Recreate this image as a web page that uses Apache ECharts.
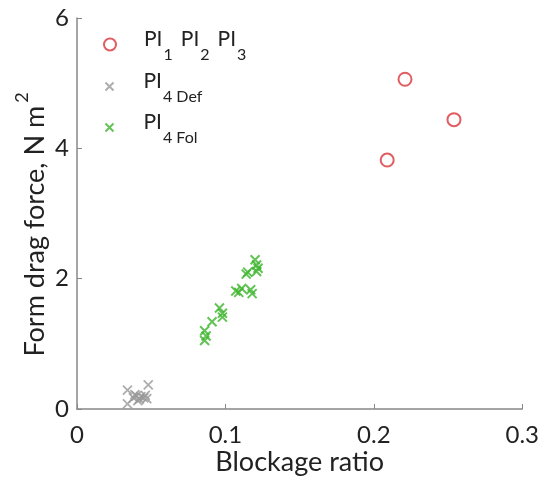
<!DOCTYPE html>
<html>
<head>
<meta charset="utf-8">
<script src="https://cdn.jsdelivr.net/npm/echarts@6/dist/echarts.min.js"></script>
<style>
  html, body { margin: 0; padding: 0; background: #fff; }
  #chart { width: 542px; height: 488px; }
</style>
</head>
<body>
<div id="chart"></div>
<script>
// blockage ratio, form drag force (N m^2)
const plants123 = [[0.209, 3.82], [0.221, 5.06], [0.254, 4.44]];
const pl4Def = [
    [0.034, 0.29], [0.034, 0.08], [0.048, 0.37], [0.038, 0.17], [0.040, 0.20],
    [0.042, 0.15], [0.043, 0.19], [0.045, 0.17], [0.046, 0.21], [0.047, 0.16],
    [0.041, 0.13], [0.039, 0.22]
];
const pl4Fol = [
    [0.086, 1.05], [0.086, 1.20], [0.087, 1.12], [0.091, 1.34], [0.096, 1.55],
    [0.098, 1.41], [0.098, 1.47], [0.107, 1.81], [0.109, 1.79], [0.111, 1.85],
    [0.117, 1.83], [0.118, 1.77], [0.114, 2.07], [0.115, 2.10], [0.120, 2.29],
    [0.121, 2.21], [0.121, 2.11], [0.122, 2.16]
];
const xTicks = { min: 0, max: 0.3, interval: 0.1 };
const yTicks = { min: 0, max: 6, interval: 2 };

const font = 'Lato, "Open Sans", sans-serif';
const ink = '#222';
const crossPath = 'path://M0,0L10,10M10,0L0,10';

// PI with lowered subscript: both tokens centred, shifted by padding
const subRich = {
    b: { fontSize: 21, lineHeight: 40, padding: [0, 0, 10, 0], color: ink, fontFamily: font },
    g: { fontSize: 21, lineHeight: 40, padding: [0, 0, 10, 8], color: ink, fontFamily: font },
    s: { fontSize: 16, lineHeight: 40, padding: [21, 0, 0, 1], color: ink, fontFamily: font }
};

const names = ['PI1 PI2 PI3', 'PI4 Def', 'PI4 Fol'];
const labels = {
    'PI1 PI2 PI3': '{b|PI}{s|1}{g|PI}{s|2}{g|PI}{s|3}',
    'PI4 Def': '{b|PI}{s|4 Def}',
    'PI4 Fol': '{b|PI}{s|4 Fol}'
};

function legendFor(name, iconY, h) {
    return {
        data: [name],
        left: 103,
        top: iconY - 19,
        padding: 0,
        itemWidth: 58,
        itemHeight: h,
        symbolKeepAspect: true,
        formatter: n => labels[n],
        textStyle: { rich: subRich }
    };
}

const chart = echarts.init(document.getElementById('chart'));
chart.setOption({
    animation: false,
    textStyle: { fontFamily: font },
    grid: { left: 77, right: 17, top: 18, bottom: 79 },
    legend: [
        legendFor(names[0], 45, 12),
        legendFor(names[1], 87, 8),
        legendFor(names[2], 128, 8)
    ],
    xAxis: {
        type: 'value',
        min: xTicks.min, max: xTicks.max, interval: xTicks.interval,
        name: 'Blockage ratio',
        nameLocation: 'middle',
        nameGap: 40,
        nameMoveOverlap: false,
        nameTextStyle: { fontSize: 27, color: ink, fontFamily: font },
        axisLine: { lineStyle: { color: '#888', width: 1.5 } },
        axisTick: { inside: true, length: 5, lineStyle: { color: '#888' } },
        axisLabel: { fontSize: 24, color: ink, margin: 14, fontFamily: font },
        splitLine: { show: false }
    },
    yAxis: {
        type: 'value',
        min: yTicks.min, max: yTicks.max, interval: yTicks.interval,
        name: '{n|Form drag force, N m}{sup|2}',
        nameLocation: 'middle',
        nameGap: 25,
        nameMoveOverlap: false,
        nameTextStyle: {
            rich: {
                n: { fontSize: 27, lineHeight: 40, padding: [6, 0, 0, 0], color: ink, fontFamily: font },
                sup: { fontSize: 18, lineHeight: 40, padding: [0, 22, 20, 3], color: ink, fontFamily: font }
            }
        },
        axisLine: { show: true, lineStyle: { color: '#888', width: 1.5 } },
        axisTick: { show: true, inside: true, length: 5, lineStyle: { color: '#888' } },
        axisLabel: { fontSize: 24, color: ink, margin: 8, fontFamily: font },
        splitLine: { show: false }
    },
    series: [
        {
            name: names[0],
            type: 'scatter',
            data: plants123,
            symbol: 'circle',
            symbolSize: 13,
            itemStyle: { color: 'transparent', borderColor: '#d8353a', borderWidth: 2 }
        },
        {
            name: names[1],
            type: 'scatter',
            data: pl4Def,
            symbol: crossPath,
            symbolSize: 9,
            itemStyle: { color: 'none', borderColor: '#999', borderWidth: 1.8 }
        },
        {
            name: names[2],
            type: 'scatter',
            data: pl4Fol,
            symbol: crossPath,
            symbolSize: 9,
            itemStyle: { color: 'none', borderColor: '#3cb42c', borderWidth: 2 }
        }
    ]
});
window.addEventListener('resize', () => chart.resize());
</script>
</body>
</html>
